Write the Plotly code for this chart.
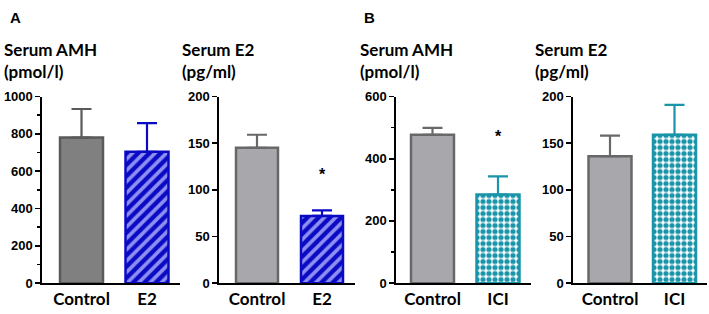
import plotly.graph_objects as go

W, H = 709, 314

# ---- data ----
cats_a = ["Control", "E2"]
cats_b = ["Control", "ICI"]
amh_a = [780, 704]
amh_a_err = [153, 153]
e2_a = [145, 72]
e2_a_err = [14, 6]
amh_b = [477, 285]
amh_b_err = [22, 58]
e2_b = [136, 159]
e2_b_err = [22, 32]

titles = ["Serum AMH<br>(pmol/l)", "Serum E2<br>(pg/ml)", "Serum AMH<br>(pmol/l)", "Serum E2<br>(pg/ml)"]
panel_letters = ["A", "B"]
star_pos = [None, (1, 116), (1, 470), None]

# ---- styles ----
gray_dark = dict(fill="#808080", line="#5a5a5a")
gray_light = dict(fill="#a7a7ac", line="#686868")
blue = "#0a0ac4"
blue_light = "#8f8ff2"
teal = "#1994a8"

def px(x):
    return x / W

def py(y):
    return 1 - y / H

fig = go.Figure()

panels = [
    dict(cats=cats_a, vals=amh_a, err=amh_a_err, ymax=1000, dtick=200, minor=100,
         xd=(42, 180), centers=(81.5, 147), bw=43, ctrl=gray_dark, kind="hatch", tx=2),
    dict(cats=cats_a, vals=e2_a, err=e2_a_err, ymax=200, dtick=50, minor=None,
         xd=(219, 355), centers=(257, 322), bw=42, ctrl=gray_light, kind="hatch", tx=180),
    dict(cats=cats_b, vals=amh_b, err=amh_b_err, ymax=600, dtick=200, minor=100,
         xd=(396, 531), centers=(432.5, 498), bw=43, ctrl=gray_light, kind="check", tx=358),
    dict(cats=cats_b, vals=e2_b, err=e2_b_err, ymax=200, dtick=50, minor=None,
         xd=(573, 707), centers=(610, 674.5), bw=43, ctrl=gray_light, kind="check", tx=533),
]

y_top, y_bot = 94, 290
annotations = []
for i, p in enumerate(panels):
    n = i + 1
    xa = "x" if n == 1 else f"x{n}"
    ya = "y" if n == 1 else f"y{n}"
    unit = p["centers"][1] - p["centers"][0]
    rng = [(p["xd"][0] - p["centers"][0]) / unit, (p["xd"][1] - p["centers"][0]) / unit]
    bw = p["bw"] / unit
    if p["kind"] == "hatch":
        col2 = blue
        pat = dict(shape="/", bgcolor=blue, fgcolor=blue_light, size=8, solidity=0.45, fillmode="replace")
    else:
        col2 = teal
        pat = dict(shape=".", bgcolor="white", fgcolor=teal, size=6, solidity=0.6, fillmode="replace")
    fig.add_trace(go.Bar(
        x=[p["cats"][0]], y=[p["vals"][0]], width=bw, xaxis=xa, yaxis=ya,
        marker=dict(color=p["ctrl"]["fill"], line=dict(color=p["ctrl"]["line"], width=2.5)),
        error_y=dict(type="data", symmetric=False, array=[p["err"][0]], arrayminus=[0],
                     color=p["ctrl"]["line"], thickness=2.2, width=10),
        showlegend=False, hoverinfo="skip"))
    fig.add_trace(go.Bar(
        x=[p["cats"][1]], y=[p["vals"][1]], width=bw, xaxis=xa, yaxis=ya,
        marker=dict(color=pat["bgcolor"], pattern=pat, line=dict(color=col2, width=2.5)),
        error_y=dict(type="data", symmetric=False, array=[p["err"][1]], arrayminus=[0],
                     color=col2, thickness=2.2, width=10),
        showlegend=False, hoverinfo="skip"))
    xdom = [px(p["xd"][0]), px(p["xd"][1])]
    ydom = [py(y_bot), py(y_top)]
    xkey = "xaxis" if n == 1 else f"xaxis{n}"
    ykey = "yaxis" if n == 1 else f"yaxis{n}"
    fig.update_layout(**{
        xkey: dict(domain=xdom, anchor=ya, type="category", categoryorder="array",
                   categoryarray=p["cats"], range=rng, showline=True, linecolor="black",
                   linewidth=1.6, ticks="", showgrid=False, zeroline=False,
                   tickfont=dict(family="Lato", size=17, color="black", weight="bold")),
        ykey: dict(domain=ydom, anchor=xa, range=[0, p["ymax"]], dtick=p["dtick"],
                   showline=True, linecolor="black", linewidth=1.6, ticks="outside",
                   ticklen=5, tickwidth=1.6, tickcolor="black", showgrid=False, zeroline=False,
                   tickfont=dict(family="Liberation Sans", size=13, color="black", weight="bold"),
                   minor=dict(ticks="outside", ticklen=3, tickwidth=1.4, tickcolor="black",
                              dtick=p["minor"]) if p["minor"] else dict(ticks=""))
    })
    annotations.append(dict(x=px(p["tx"]), y=py(56), xref="paper", yref="paper", text=titles[i],
                            showarrow=False, xanchor="left", yanchor="middle", align="left",
                            font=dict(family="Lato", size=17, color="black", weight="bold")))
    if star_pos[i] is not None:
        sx, sy = star_pos[i]
        annotations.append(dict(x=p["cats"][sx], y=sy, xref=xa, yref=ya, text="*",
                                showarrow=False, font=dict(family="Liberation Sans", size=16,
                                                           color="black", weight="bold")))

annotations.append(dict(x=px(8), y=py(11), xref="paper", yref="paper", text=panel_letters[0],
                        showarrow=False, xanchor="left", yanchor="middle",
                        font=dict(family="Liberation Sans", size=15, color="black", weight="bold")))
annotations.append(dict(x=px(362), y=py(11), xref="paper", yref="paper", text=panel_letters[1],
                        showarrow=False, xanchor="left", yanchor="middle",
                        font=dict(family="Liberation Sans", size=15, color="black", weight="bold")))

fig.update_layout(width=W, height=H, margin=dict(l=0, r=0, t=0, b=0),
                  paper_bgcolor="white", plot_bgcolor="white", annotations=annotations,
                  barmode="overlay")
fig.write_html("out.html", config={"displayModeBar": False, "staticPlot": True},
               post_script="document.body.style.margin='0';document.body.style.overflow='hidden';")
